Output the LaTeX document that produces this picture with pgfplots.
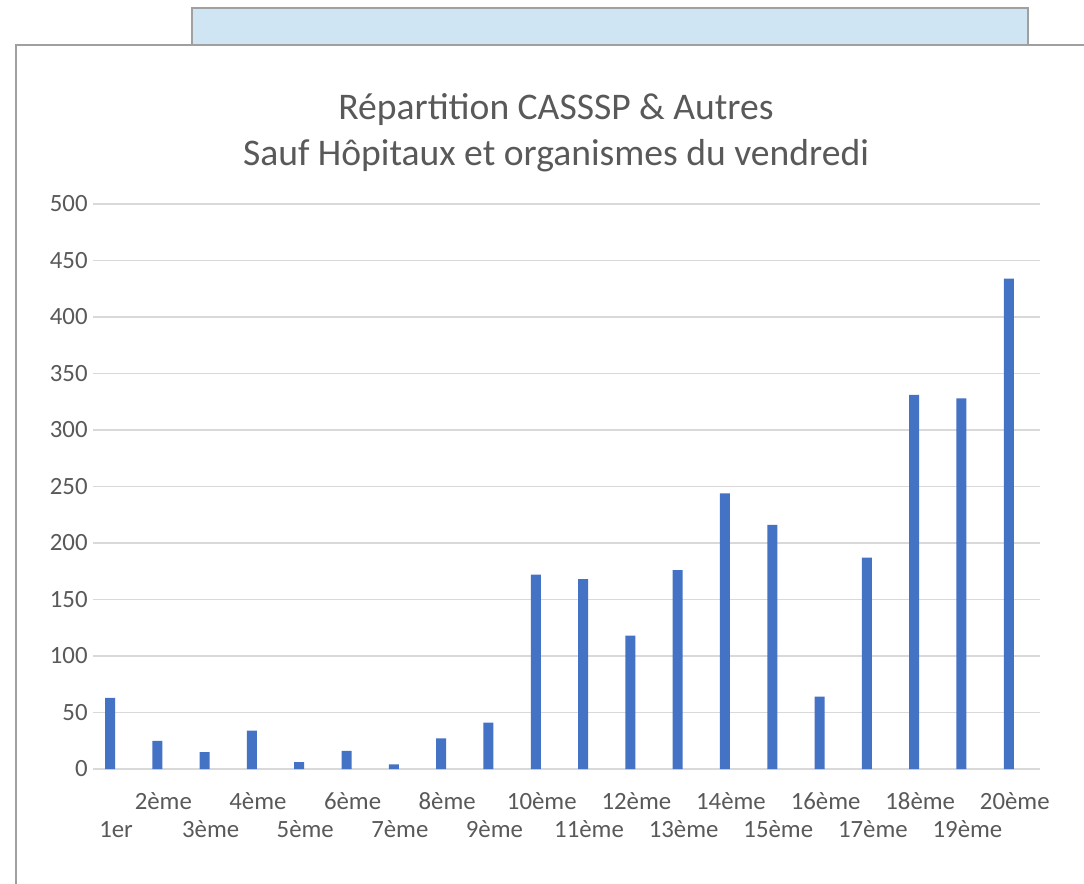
\documentclass[border=0pt]{standalone}
\usepackage{pgfplots}
\pgfplotsset{compat=1.18}
\usepackage{fontspec}
\setmainfont{Carlito}
\definecolor{barblue}{HTML}{4472C4}
\definecolor{txtgray}{HTML}{595959}
\definecolor{gridgray}{HTML}{D9D9D9}
\definecolor{panelgray}{HTML}{A0A0A0}
\definecolor{tabblue}{HTML}{D0E5F3}
\begin{document}
\begin{tikzpicture}
\path[use as bounding box, fill=white] (0,0) rectangle (542pt,-442pt);
\fill[white] (0,0) rectangle (542pt,-442pt);
\draw[panelgray, fill=tabblue, line width=0.7pt] (96pt,-22.5pt) -- (96pt,-4pt) -- (514pt,-4pt) -- (514pt,-22.5pt);
\draw[panelgray, line width=0.8pt] (8pt,-442pt) -- (8pt,-22.5pt) -- (542pt,-22.5pt);
\node[anchor=base, text=txtgray, font=\fontsize{18.8}{22}\selectfont, inner sep=0pt] at (278pt,-59.5pt) {Répartition CASSSP \& Autres};
\node[anchor=base, text=txtgray, font=\fontsize{18.8}{22}\selectfont, inner sep=0pt] at (278pt,-82.5pt) {Sauf Hôpitaux et organismes du vendredi};
\begin{axis}[
  at={(46.5pt,-384.5pt)}, anchor=south west,
  scale only axis, width=473.5pt, height=282.5pt,
  xmin=-0.36, xmax=19.66, ymin=0, ymax=500,
  ytick={0,50,...,500},
  xtick={0,...,19},
  xticklabels={\raisebox{-14pt}{1er}, 2ème, \raisebox{-14pt}{3ème}, 4ème, \raisebox{-14pt}{5ème}, 6ème, \raisebox{-14pt}{7ème}, 8ème, \raisebox{-14pt}{9ème}, 10ème, \raisebox{-14pt}{11ème}, 12ème, \raisebox{-14pt}{13ème}, 14ème, \raisebox{-14pt}{15ème}, 16ème, \raisebox{-14pt}{17ème}, 18ème, \raisebox{-14pt}{19ème}, 20ème},
  major tick length=0pt,
  axis line style={draw=none},
  ymajorgrids, grid style={gridgray, line width=0.6pt},
  /pgf/number format/assume math mode=true,
  every tick label/.append style={font=\fontsize{12.4}{14}\selectfont, text=txtgray},
  yticklabel style={anchor=east, inner sep=0pt, xshift=-2.5pt},
  xticklabel style={anchor=base, inner sep=0pt, xshift=3pt, yshift=-20pt},
  ybar, bar width=5pt,
  clip=false,
]
\addplot[fill=barblue, draw=none] coordinates {
(0,63) (1,25) (2,15) (3,34) (4,6) (5,16) (6,4) (7,27) (8,41) (9,172)
(10,168) (11,118) (12,176) (13,244) (14,216) (15,64) (16,187) (17,331) (18,328) (19,434)
};
\end{axis}
\end{tikzpicture}
\end{document}
